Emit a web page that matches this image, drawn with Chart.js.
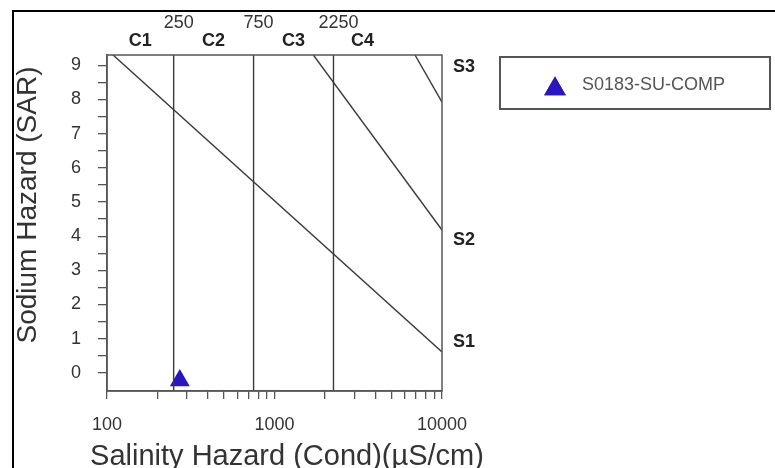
<!DOCTYPE html>
<html>
<head>
<meta charset="utf-8">
<script src="https://cdn.jsdelivr.net/npm/chart.js@4/dist/chart.umd.min.js"></script>
<style>
  html, body { margin: 0; padding: 0; background: #fff; }
  #wrap { width: 775px; height: 468px; position: relative; }
</style>
</head>
<body>
<div id="wrap"><canvas id="wilcox"></canvas></div>
<script>
// axis ranges
var condMin = 100, condMax = 10000;
var sarMin = -0.53, sarMax = 9.3;

// salinity class boundaries (uS/cm) and class names
var classBounds = [250, 750, 2250];
var classEdges = [100, 250, 750, 2250, 5000];
var classNames = ['C1', 'C2', 'C3', 'C4'];
var sodiumNames = ['S1', 'S2', 'S3'];

// sodium hazard boundary lines (cond, SAR)
var lineS1S2 = [{x: 100, y: 9.46}, {x: 10000, y: 0.61}];
var lineS2S3 = [{x: 1706, y: 9.3}, {x: 10000, y: 4.18}];
var lineS3S4 = [{x: 6900, y: 9.3}, {x: 10000, y: 7.92}];

// the sample
var sampleName = 'S0183-SU-COMP';
var sampleCond = [272];
var sampleSar = [-0.22];

var xTitle = 'Salinity Hazard (Cond)(µS/cm)';
var yTitle = 'Sodium Hazard (SAR)';

var xTickValues = [];
for (var e = 100; e < 10000; e *= 10) {
  for (var m = 1; m < 10; m++) xTickValues.push(m * e);
}
xTickValues.push(10000);
var yTickValues = [];
for (var t = 0; t <= 9; t += 0.5) yTickValues.push(t);

var FONT = "'Liberation Sans', Arial, sans-serif";
var LINE = '#3a3a3a';
var BLUE = '#2a14c4';

var datasets = [];
classBounds.forEach(function (c) {
  datasets.push({ data: [{x: c, y: sarMin}, {x: c, y: sarMax}] });
});
[lineS1S2, lineS2S3, lineS3S4].forEach(function (l) {
  datasets.push({ data: l });
});
datasets.forEach(function (d) {
  d.showLine = true;
  d.borderColor = LINE;
  d.borderWidth = 1.4;
  d.pointRadius = 0;
  d.pointHoverRadius = 0;
});
datasets.push({
  label: sampleName,
  data: sampleCond.map(function (c, i) { return {x: c, y: sampleSar[i]}; }),
  pointStyle: 'triangle',
  pointRadius: 11.5,
  pointBackgroundColor: BLUE,
  pointBorderColor: BLUE,
  pointBorderWidth: 0,
  showLine: false
});

var decor = {
  id: 'decor',
  beforeDraw: function (chart) {
    var ctx = chart.ctx;
    ctx.save();
    ctx.fillStyle = '#fff';
    ctx.fillRect(0, 0, chart.width, chart.height);
    // outer frame
    ctx.strokeStyle = '#000';
    ctx.lineWidth = 2;
    ctx.beginPath();
    ctx.moveTo(13, chart.height + 5);
    ctx.lineTo(13, 11);
    ctx.lineTo(chart.width + 5, 11);
    ctx.stroke();
    ctx.restore();
  },
  afterDraw: function (chart) {
    var ctx = chart.ctx, a = chart.chartArea;
    var xs = chart.scales.x, ys = chart.scales.y;
    ctx.save();
    // plot box
    ctx.strokeStyle = '#555';
    ctx.lineWidth = 1.5;
    ctx.strokeRect(a.left, a.top, a.right - a.left, a.bottom - a.top);

    // axis titles
    ctx.fillStyle = '#333';
    ctx.textAlign = 'center';
    ctx.textBaseline = 'alphabetic';
    ctx.font = '29px ' + FONT;
    ctx.fillText(xTitle, 287, 465);
    ctx.textBaseline = 'middle';
    ctx.save();
    ctx.translate(28, 205);
    ctx.rotate(-Math.PI / 2);
    ctx.font = '28px ' + FONT;
    ctx.fillText(yTitle, 0, 0);
    ctx.restore();

    // boundary values above the plot
    ctx.font = '18px ' + FONT;
    classBounds.forEach(function (c) {
      ctx.fillText(String(c), xs.getPixelForValue(c) + 5, 23);
    });
    // class names
    ctx.font = 'bold 18px ' + FONT;
    ctx.fillStyle = '#222';
    classNames.forEach(function (n, i) {
      var mid = Math.sqrt(classEdges[i] * classEdges[i + 1]);
      ctx.fillText(n, xs.getPixelForValue(mid), 41);
    });
    // sodium names on the right
    ctx.textAlign = 'left';
    var sY = [0.91, 3.89, 8.95];
    sodiumNames.forEach(function (n, i) {
      ctx.fillText(n, a.right + 11, ys.getPixelForValue(sY[i]));
    });

    // legend box
    ctx.strokeStyle = '#555';
    ctx.lineWidth = 2;
    ctx.strokeRect(500, 57, 270, 52);
    var ds = chart.data.datasets[chart.data.datasets.length - 1];
    Chart.helpers.drawPoint(ctx, {
      pointStyle: 'triangle', radius: 12.5, rotation: 0, borderWidth: 0
    }, 555, 89);
    ctx.fillStyle = ds.pointBackgroundColor;
    ctx.fill();
    ctx.fillStyle = '#555';
    ctx.font = '18px ' + FONT;
    ctx.textBaseline = 'middle';
    ctx.fillText(ds.label, 582, 85);
    ctx.restore();
  }
};

new Chart(document.getElementById('wilcox'), {
  type: 'scatter',
  data: { datasets: datasets },
  options: {
    responsive: true,
    maintainAspectRatio: false,
    animation: false,
    events: [],
    layout: { padding: { left: 0, top: 55, right: 333, bottom: 0 } },
    plugins: {
      legend: { display: false },
      tooltip: { enabled: false }
    },
    scales: {
      x: {
        type: 'logarithmic',
        min: condMin,
        max: condMax,
        afterBuildTicks: function (s) {
          s.ticks = xTickValues.map(function (v) { return {value: v}; });
        },
        afterFit: function (s) { s.height = 77; },
        ticks: {
          autoSkip: false,
          maxRotation: 0,
          padding: 15,
          color: '#333',
          font: { family: FONT, size: 18 },
          callback: function (v) {
            return (v === 100 || v === 1000 || v === 10000) ? String(v) : '';
          }
        },
        grid: { drawOnChartArea: false, drawTicks: true, tickLength: 8, color: '#555', lineWidth: 1.3 },
        border: { display: true, color: '#555', width: 1.5 }
      },
      y: {
        type: 'linear',
        min: sarMin,
        max: sarMax,
        afterBuildTicks: function (s) {
          s.ticks = yTickValues.map(function (v) { return {value: v}; });
        },
        afterFit: function (s) { s.width = 107; },
        ticks: {
          autoSkip: false,
          padding: 17,
          color: '#333',
          font: { family: FONT, size: 18 },
          callback: function (v) { return Number.isInteger(v) ? String(v) : ''; }
        },
        grid: { drawOnChartArea: false, drawTicks: true, tickLength: 9, color: '#555', lineWidth: 1.3 },
        border: { display: true, color: '#555', width: 1.5 }
      }
    }
  },
  plugins: [decor]
});
</script>
</body>
</html>
